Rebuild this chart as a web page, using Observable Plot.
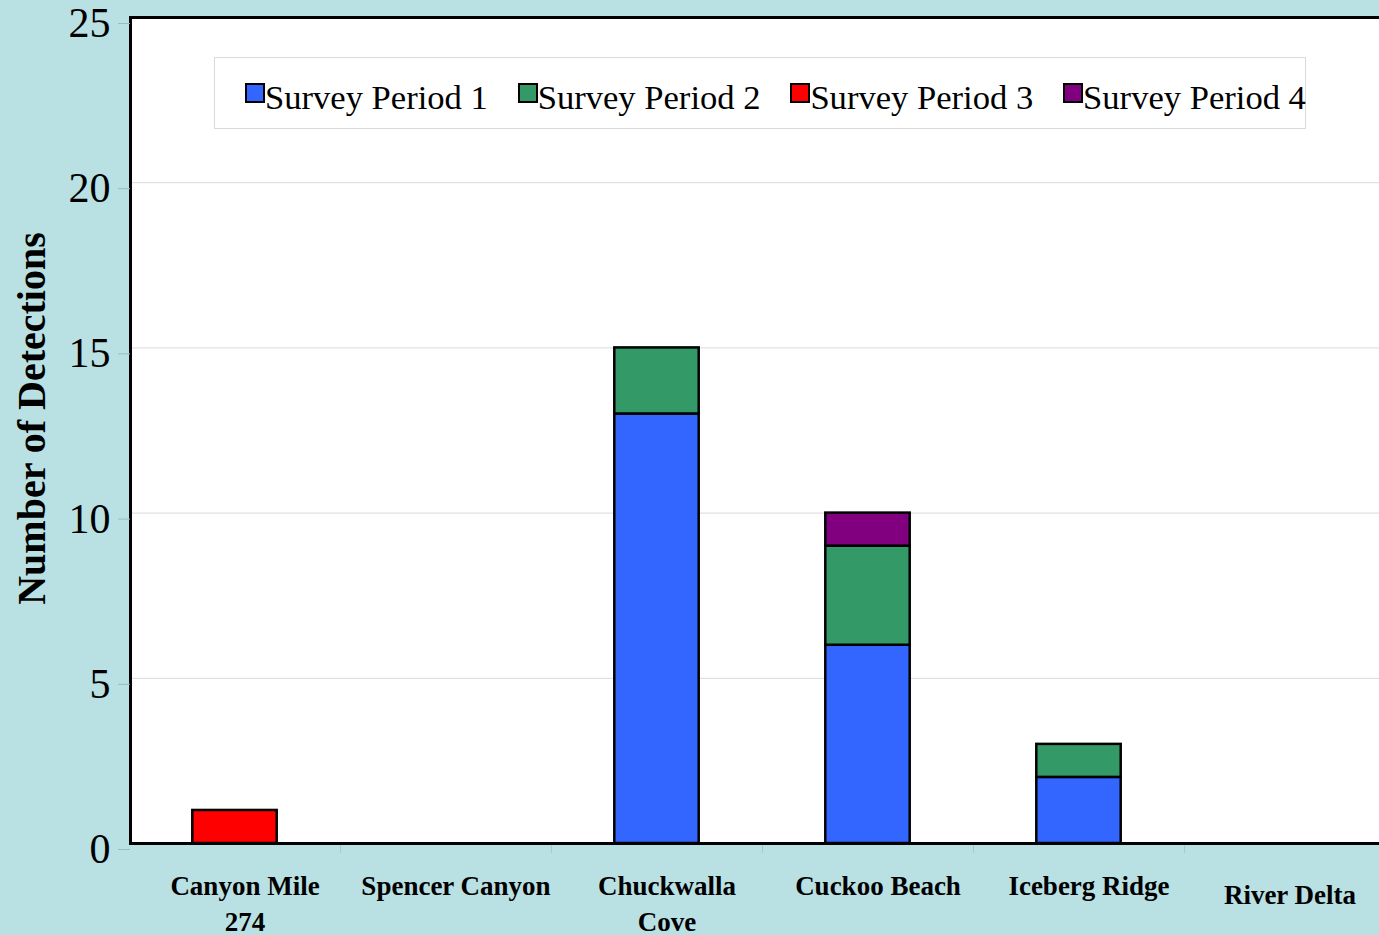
<!DOCTYPE html>
<html>
<head>
<meta charset="utf-8">
<script src="https://cdn.jsdelivr.net/npm/d3@7"></script>
<script src="https://cdn.jsdelivr.net/npm/@observablehq/plot@0.6"></script>
<style>
  html, body { margin: 0; padding: 0; background: #b9e0e3; overflow: hidden; }
  #wrap { position: relative; width: 1379px; height: 935px; }
  #legend {
    position: absolute; left: 214px; top: 57px; width: 1090px; height: 70px;
    background: white; border: 1px solid #d9d9d9; box-sizing: content-box;
    font-family: "Liberation Serif", "Times New Roman", serif; font-size: 34.6px; color: black;
  }
  .item { position: absolute; top: 19px; display: flex; align-items: flex-start; white-space: nowrap; line-height: 40px; }
  .sw { width: 16px; height: 16px; border: 2px solid black; margin-top: 6px; margin-right: 0px; }
</style>
</head>
<body>
<div id="wrap"><div id="chart"></div><div id="legend"></div></div>
<script>
const categories = ["Canyon Mile 274", "Spencer Canyon", "Chuckwalla Cove", "Cuckoo Beach", "Iceberg Ridge", "River Delta"];
const tickLabels = ["Canyon Mile\n274", "Spencer Canyon", "Chuckwalla\nCove", "Cuckoo Beach", "Iceberg Ridge", "River Delta"];
const periods = ["Survey Period 1", "Survey Period 2", "Survey Period 3", "Survey Period 4"];
const period1 = [0, 0, 13, 6, 2, 0];
const period2 = [0, 0, 2, 3, 1, 0];
const period3 = [1, 0, 0, 0, 0, 0];
const period4 = [0, 0, 0, 1, 0, 0];
const colors = ["#3366ff", "#339966", "#ff0000", "#800080"];
const yTicks = [0, 5, 10, 15, 20, 25];

const series = [period1, period2, period3, period4];
const rows = [];
categories.forEach((c, i) => {
  series.forEach((s, j) => {
    if (s[i] > 0) rows.push({site: c, period: periods[j], count: s[i]});
  });
});

const labelOf = c => tickLabels[categories.indexOf(c)];
const font = "Liberation Serif, Times New Roman, serif";

const chart = Plot.plot({
  width: 1379,
  height: 935,
  marginLeft: 130,
  marginRight: 0,
  marginTop: 17,
  marginBottom: 92,
  style: {background: "#b9e0e3", fontFamily: font, overflow: "hidden"},
  x: {type: "band", domain: categories, range: [129, 1395], paddingInner: 0.6, paddingOuter: 0.3, round: false},
  y: {domain: [0, 25]},
  color: {domain: periods, range: colors},
  marks: [
    Plot.frame({fill: "white", stroke: null}),
    Plot.ruleY(yTicks.slice(1, -1), {stroke: "#d9d9d9", strokeWidth: 1}),
    Plot.barY(rows, {x: "site", y: "count", fill: "period", stroke: "black", strokeWidth: 2.5, order: periods}),
    Plot.ruleX(categories.slice(0, -1), {x: d => d, y1: 0, y2: -0.3, dx: 105.5, stroke: "#a8c8cc", strokeWidth: 1}),
    Plot.ruleY([0], {stroke: "black", strokeWidth: 3}),
    Plot.ruleY([25], {stroke: "black", strokeWidth: 3}),
    Plot.frame({anchor: "left", stroke: "black", strokeWidth: 3}),
    Plot.axisY(yTicks, {tickSize: 12, tickPadding: 8, fontSize: 42, stroke: "#98bcc0", fill: "black", dy: 6, label: null}),
    Plot.axisX(categories.slice(0, -1), {tickSize: 0, tickPadding: 26, dx: 10, fontSize: 27, fontWeight: "bold", lineHeight: 1.34, fill: "black", tickFormat: labelOf, label: null}),
    Plot.axisX(categories.slice(-1), {tickSize: 0, tickPadding: 41, fontSize: 27, fontWeight: "bold", fill: "black", tickFormat: labelOf, label: null}),
    Plot.text(["Number of Detections"], {frameAnchor: "left", rotate: -90, dx: -98, dy: -12, fontSize: 40, fontWeight: "bold", fill: "black", textAnchor: "middle", lineAnchor: "middle"})
  ]
});
document.getElementById("chart").appendChild(chart);

const legend = document.getElementById("legend");
periods.forEach((p, i) => {
  const item = document.createElement("div");
  item.className = "item";
  item.style.left = (30 + i * 272.7) + "px";
  const sw = document.createElement("div");
  sw.className = "sw";
  sw.style.background = colors[i];
  const t = document.createElement("span");
  t.textContent = p;
  item.appendChild(sw);
  item.appendChild(t);
  legend.appendChild(item);
});
</script>
</body>
</html>
